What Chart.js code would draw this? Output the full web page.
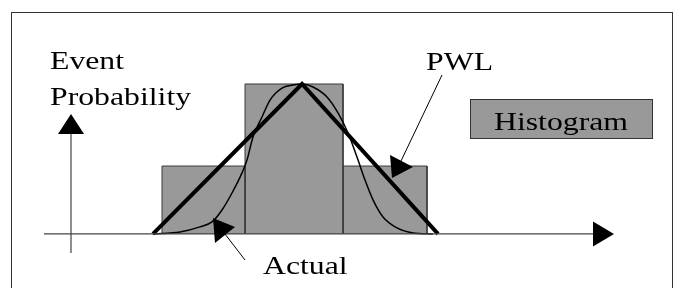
<!DOCTYPE html>
<html>
<head>
<meta charset="utf-8">
<script src="https://cdn.jsdelivr.net/npm/chart.js@4/dist/chart.umd.min.js"></script>
<style>
  html, body { margin: 0; padding: 0; background: #fff; }
  canvas { display: block; }
</style>
</head>
<body>
<canvas id="chart" width="677" height="288"></canvas>
<script>
// Histogram bins (edges + heights), piecewise-linear fit and the actual distribution
const histEdges = [9.1, 17.4, 27.2, 35.6];
const histHeights = [0.453, 1.0, 0.453];

const pwlX = [8.2, 23.1, 36.7];
const pwlY = [0, 1.0, 0];

const actualX = [8.2, 10.9, 12.9, 14.1, 15.1, 16.1, 17.1, 17.6, 18.2, 19.1, 19.9, 21.1, 22.2, 23.1,
                 24.2, 25.6, 26.7, 27.7, 28.6, 29.4, 30.2, 31.2, 32.6, 34.2, 36.2];
const actualY = [0, 0.013, 0.047, 0.08, 0.16, 0.273, 0.407, 0.493, 0.647, 0.78, 0.893, 0.973, 0.993, 1.0,
                 0.98, 0.913, 0.807, 0.673, 0.513, 0.36, 0.227, 0.113, 0.04, 0.007, 0];

const yAxisAt = 0;      // vertical axis sits at x = 0
const yAxisTop = 0.8;   // where its arrow ends

const toPoints = (xs, ys) => xs.map((x, i) => ({ x: x, y: ys[i] }));

const barSets = histHeights.map((h, i) => ({
    label: 'Histogram ' + (i + 1),
    data: [
        { x: histEdges[i], y: 0 },
        { x: histEdges[i], y: h },
        { x: histEdges[i + 1], y: h },
        { x: histEdges[i + 1], y: 0 }
    ],
    showLine: true,
    fill: 'origin',
    backgroundColor: '#999999',
    borderColor: '#3a3a3a',
    borderWidth: 1,
    pointRadius: 0,
    tension: 0,
    order: 3
}));

const serif = '"Liberation Serif", "Times New Roman", serif';

function stretchedText(ctx, text, x, y) {
    ctx.save();
    ctx.translate(x, y);
    ctx.scale(1.27, 1);
    ctx.fillText(text, 0, 0);
    ctx.restore();
}

function triangle(ctx, a, b, c) {
    ctx.beginPath();
    ctx.moveTo(a[0], a[1]);
    ctx.lineTo(b[0], b[1]);
    ctx.lineTo(c[0], c[1]);
    ctx.closePath();
    ctx.fill();
}

const decor = {
    id: 'decor',
    beforeDraw(chart) {
        const ctx = chart.ctx;
        ctx.save();
        ctx.fillStyle = '#fff';
        ctx.fillRect(0, 0, chart.width, chart.height);
        ctx.strokeStyle = '#333';
        ctx.lineWidth = 1;
        ctx.strokeRect(11.5, 12.5, 661, 300);
        ctx.restore();
    },
    afterDatasetsDraw(chart) {
        const ctx = chart.ctx;
        const xs = chart.scales.x, ys = chart.scales.y;
        const area = chart.chartArea;
        const y0 = ys.getPixelForValue(0);
        const xAxis = xs.getPixelForValue(yAxisAt);
        const yTip = ys.getPixelForValue(yAxisTop);

        ctx.save();
        // axes
        ctx.strokeStyle = '#444';
        ctx.lineWidth = 1.2;
        ctx.beginPath();
        ctx.moveTo(area.left, y0);
        ctx.lineTo(area.right - 20, y0);
        ctx.moveTo(xAxis, area.bottom);
        ctx.lineTo(xAxis, yTip + 20);
        ctx.stroke();
        ctx.fillStyle = '#000';
        triangle(ctx, [area.right, y0], [area.right - 21, y0 - 12.5], [area.right - 21, y0 + 12.5]);
        triangle(ctx, [xAxis, yTip], [xAxis - 13, yTip + 20], [xAxis + 13, yTip + 20]);

        // pointers
        ctx.strokeStyle = '#000';
        ctx.lineWidth = 1;
        ctx.beginPath();
        ctx.moveTo(245, 260);
        ctx.lineTo(225, 234);
        ctx.moveTo(442, 75);
        ctx.lineTo(401, 161);
        ctx.stroke();
        triangle(ctx, [213, 218], [215, 243], [235, 227]);
        triangle(ctx, [392, 178], [390, 155], [413, 167]);

        // legend box
        ctx.fillStyle = '#999999';
        ctx.fillRect(470, 99, 182, 39);
        ctx.strokeStyle = '#333';
        ctx.strokeRect(470.5, 99.5, 182, 39);

        // labels
        ctx.fillStyle = '#000';
        ctx.font = '25px ' + serif;
        ctx.textBaseline = 'alphabetic';
        ctx.textAlign = 'left';
        stretchedText(ctx, 'Event', 50, 69);
        stretchedText(ctx, 'Probability', 50, 105);
        stretchedText(ctx, 'PWL', 426, 70);
        stretchedText(ctx, 'Histogram', 494, 130);
        stretchedText(ctx, 'Actual', 263, 274);
        ctx.restore();
    }
};

function drawChart() {
    new Chart(document.getElementById('chart'), {
        type: 'scatter',
        data: {
            datasets: [
                {
                    label: 'PWL',
                    data: toPoints(pwlX, pwlY),
                    showLine: true,
                    borderColor: '#000',
                    borderWidth: 4,
                    pointRadius: 0,
                    tension: 0,
                    fill: false,
                    order: 1
                },
                {
                    label: 'Actual',
                    data: toPoints(actualX, actualY),
                    showLine: true,
                    borderColor: '#000',
                    borderWidth: 1.5,
                    pointRadius: 0,
                    cubicInterpolationMode: 'monotone',
                    fill: false,
                    order: 2
                },
                ...barSets
            ]
        },
        options: {
            responsive: false,
            animation: false,
            layout: { padding: { left: 44, right: 63, top: 69, bottom: 35 } },
            plugins: { legend: { display: false }, tooltip: { enabled: false } },
            scales: {
                x: { type: 'linear', min: -2.7, max: 54.3, display: false },
                y: { type: 'linear', min: -0.127, max: 1.1, display: false }
            }
        },
        plugins: [decor]
    });
}

// wait for the serif face so the canvas text doesn't fall back
document.fonts.load('25px "Liberation Serif"').then(drawChart, drawChart);
</script>
</body>
</html>
